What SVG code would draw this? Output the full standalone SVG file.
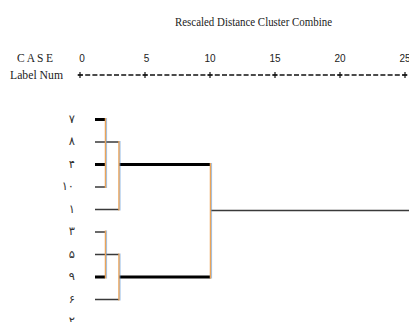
<svg xmlns="http://www.w3.org/2000/svg" width="409" height="322" viewBox="0 0 409 322">
<style>
.serif{font-family:"Liberation Serif","Times New Roman",serif;fill:#222}
.num{font-family:"Liberation Sans",Arial,sans-serif;font-size:10px;fill:#222;text-anchor:middle}
.lab{font-family:"DejaVu Sans","Noto Sans",sans-serif;font-size:11.5px;fill:#333;text-anchor:end}
.thin{stroke:#3a3a3a;stroke-width:1.4;fill:none}
.thick{stroke:#000;stroke-width:3;fill:none}
.vo{stroke:#eaa45a;stroke-width:1.5;fill:none}
.vb{stroke:#5a94d8;stroke-width:0.7;stroke-opacity:0.8;fill:none}
.axis{stroke:#111;stroke-width:1.6;stroke-dasharray:5 2.2;fill:none}
.tick{stroke:#111;stroke-width:1.2}
</style>
<rect width="409" height="322" fill="#fff"/>
<g id="header">
<text class="serif" x="175" y="25.5" font-size="11.5" textLength="157" lengthAdjust="spacingAndGlyphs">Rescaled Distance Cluster Combine</text>
<text class="serif" x="17" y="62" font-size="11.5" textLength="36" lengthAdjust="spacing">C A S E</text>
<text class="serif" x="10" y="78.5" font-size="11.5" textLength="53" lengthAdjust="spacingAndGlyphs">Label Num</text>
<text class="num" x="82" y="62">0</text>
<text class="num" x="146.5" y="62">5</text>
<text class="num" x="210" y="62">10</text>
<text class="num" x="275" y="62">15</text>
<text class="num" x="340" y="62">20</text>
<text class="num" x="405" y="62">25</text>
</g>
<g id="axis">
<line class="axis" x1="78" y1="75" x2="409" y2="75"/>
<path class="tick" d="M80 72v6M145 72v6M210 72v6M275 72v6M340 72v6M405 72v6M77.5 75h5M142.5 75h5M207.5 75h5M272.5 75h5M337.5 75h5M402.5 75h5"/>
</g>
<g id="labels">
<text id="n7" class="lab" x="75" y="122.5">۷</text>
<text id="n8" class="lab" x="75" y="145">۸</text>
<text id="n4" class="lab" x="75" y="167.5">۴</text>
<text id="n10" class="lab" x="74" y="190">۱۰</text>
<text id="n1" class="lab" x="75" y="212.5">۱</text>
<text id="n3" class="lab" x="75" y="235">۳</text>
<text id="n5" class="lab" x="75" y="257.5">۵</text>
<text id="n9" class="lab" x="75" y="280">۹</text>
<text id="n6" class="lab" x="75" y="302.5">۶</text>
<text id="n2" class="lab" x="75" y="325">۲</text>
</g>
<g id="connectors">
<path class="thick" d="M95 119.5H105M95 164.5H105M119 164.5H210.5M95 277H105M119 277H210.5"/>
<path class="thin" d="M95 142H119M95 187H105M95 209.5H119M95 232H105M95 254.5H119M95 299.5H119"/>
<path class="thin" stroke-width="1" d="M211 210.5H409"/>
<path class="vo" d="M105.5 118V188M119 141V210.5M105.5 230.5V278.5M119 253.5V300.5M210.5 163V278.5"/>
<path class="vb" d="M106.6 118V188M120.1 141V210.5M106.6 230.5V278.5M120.1 253.5V300.5M211.6 163V278.5"/>
</g>
</svg>
